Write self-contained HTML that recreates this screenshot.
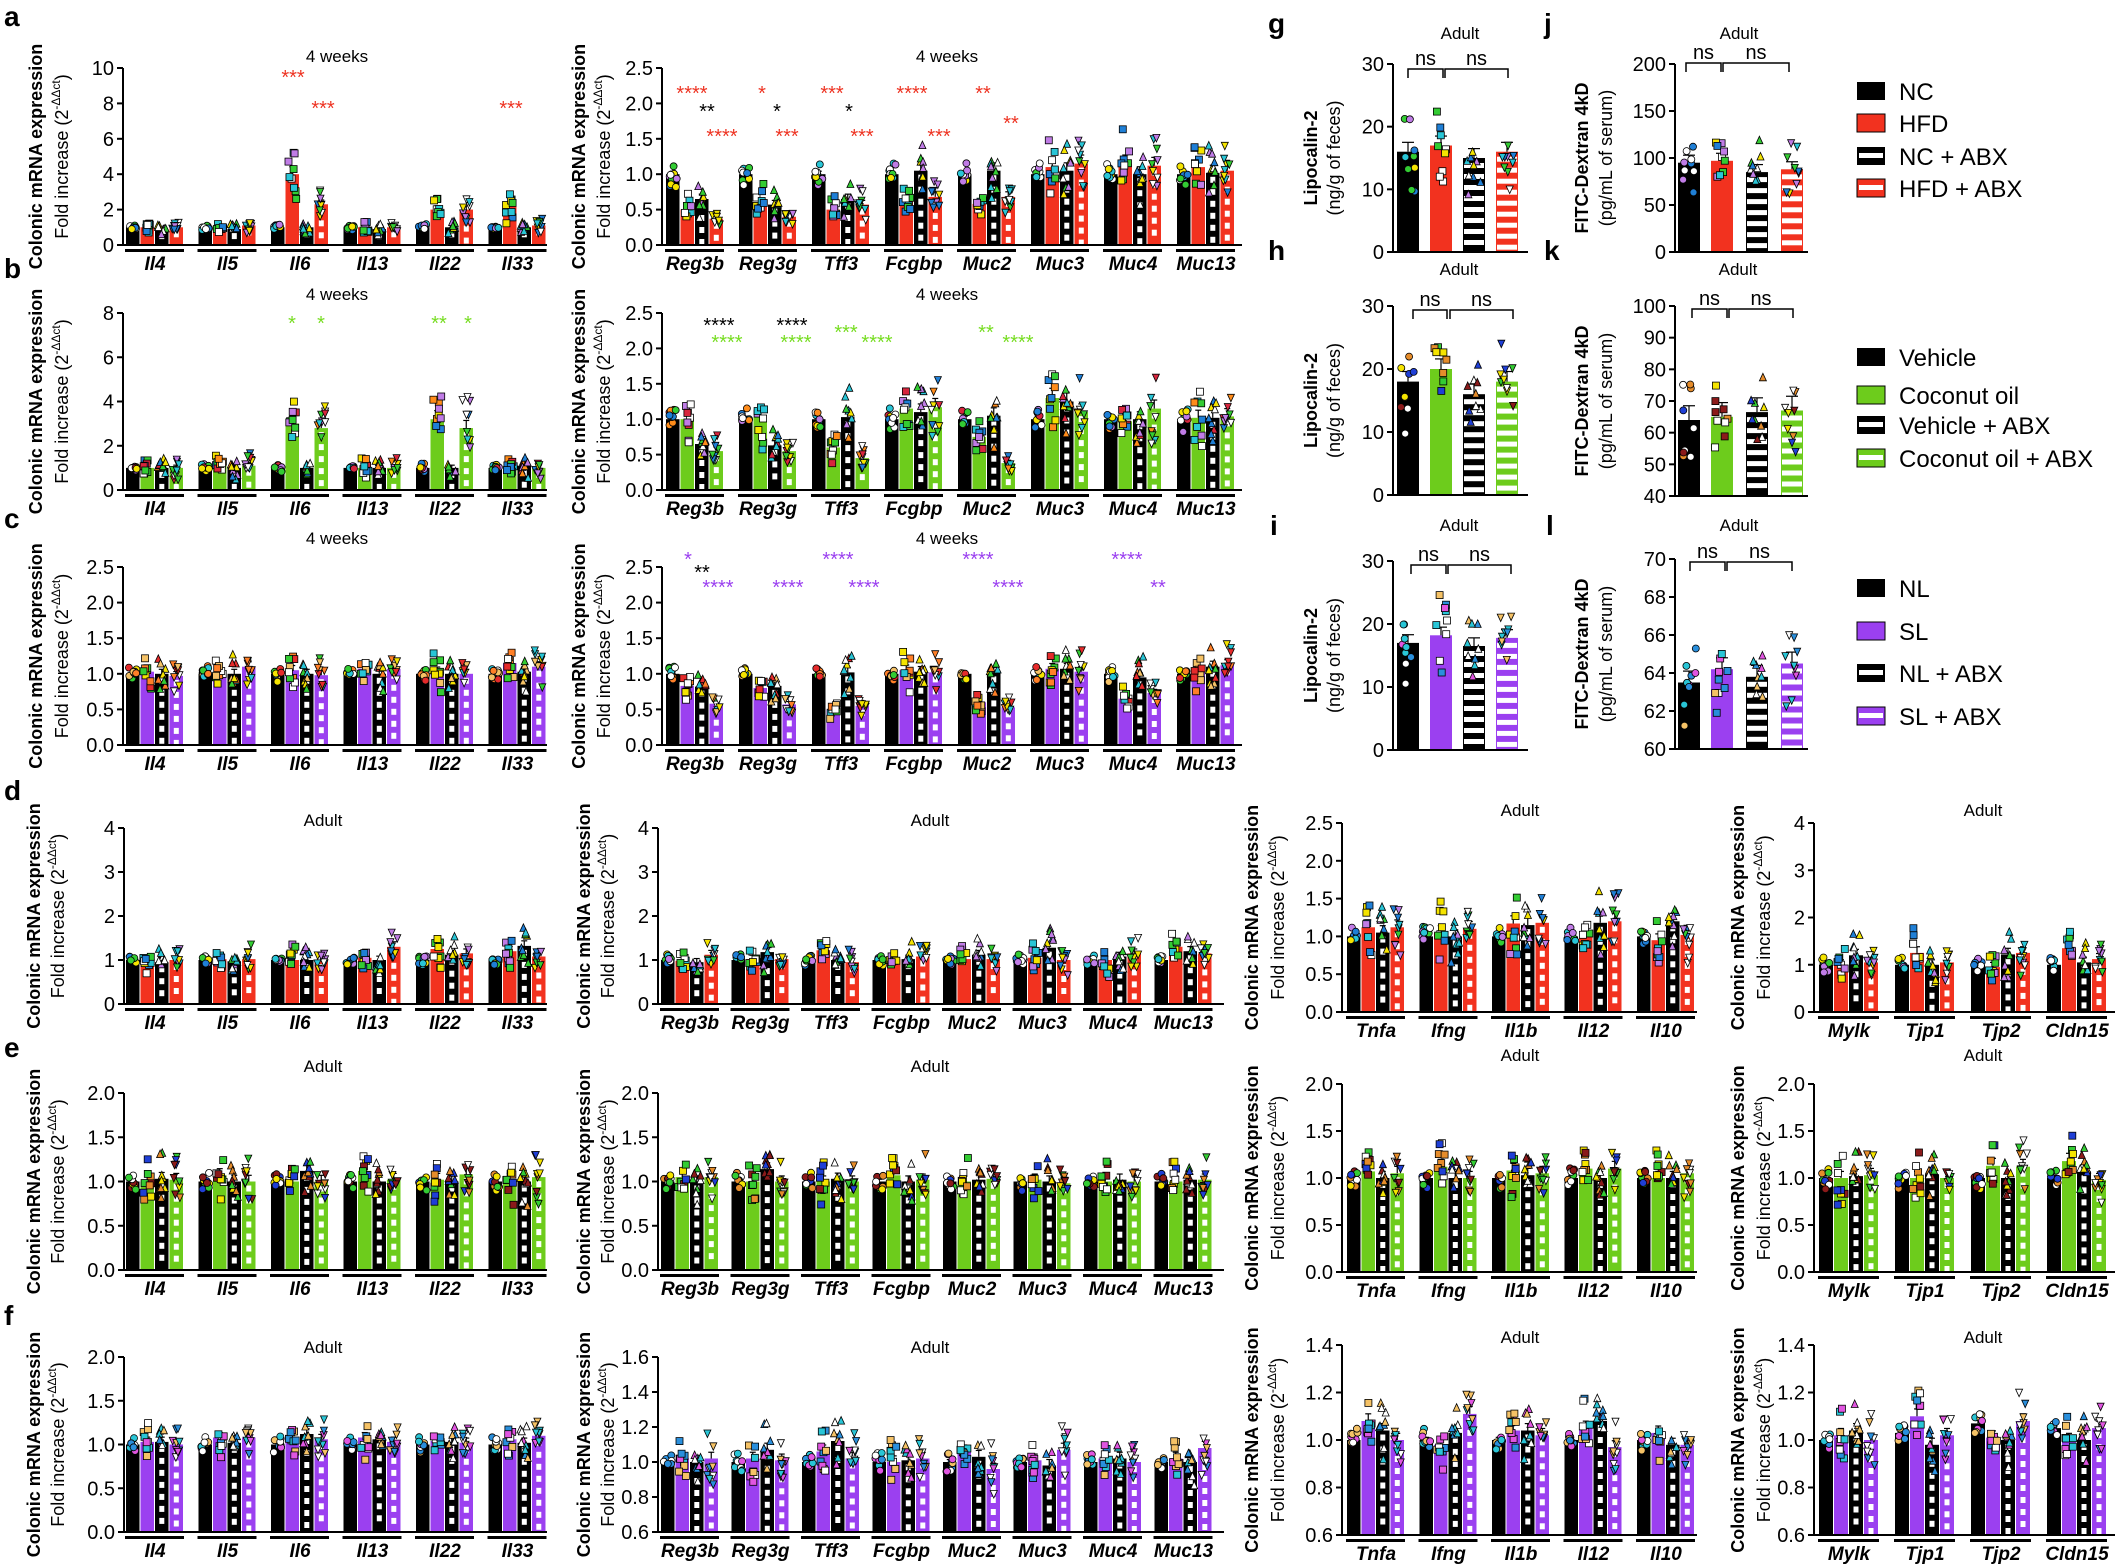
<!DOCTYPE html>
<html><head><meta charset="utf-8"><style>
html,body{margin:0;padding:0;background:#fff;}
svg{display:block;font-family:"Liberation Sans",Arial,sans-serif;}
</style></head><body>
<svg id="s" width="2120" height="1567" viewBox="0 0 2120 1567" xmlns="http://www.w3.org/2000/svg">
<rect width="2120" height="1567" fill="#fff"/>
<g font-weight="bold" font-size="28" fill="#000">
<text x="4" y="26">a</text><text x="4" y="278">b</text><text x="4" y="528">c</text>
<text x="4" y="800">d</text><text x="4" y="1057">e</text><text x="4" y="1325">f</text>
<text x="1268" y="33">g</text><text x="1268" y="260">h</text><text x="1270" y="535">i</text>
<text x="1544" y="33">j</text><text x="1544" y="260">k</text><text x="1546" y="535">l</text>
</g>
<g id="legend" font-size="24">
<rect x="1857" y="82" width="28" height="18" fill="#000"/><text x="1899" y="100">NC</text>
<rect x="1857" y="114" width="28" height="18" fill="#f2321f" stroke="#000" stroke-width="1"/><text x="1899" y="132">HFD</text>
<rect x="1857" y="147" width="28" height="18" fill="#000"/><rect x="1859" y="153" width="24" height="5" fill="#fff"/><text x="1899" y="165">NC + ABX</text>
<rect x="1857" y="179" width="28" height="18" fill="#f2321f" stroke="#000" stroke-width="1"/><rect x="1859" y="185" width="24" height="5" fill="#fff"/><text x="1899" y="197">HFD + ABX</text>

<rect x="1857" y="348" width="28" height="18" fill="#000"/><text x="1899" y="366">Vehicle</text>
<rect x="1857" y="386" width="28" height="18" fill="#6dcc1c" stroke="#000" stroke-width="1"/><text x="1899" y="404">Coconut oil</text>
<rect x="1857" y="416" width="28" height="18" fill="#000"/><rect x="1859" y="422" width="24" height="5" fill="#fff"/><text x="1899" y="434">Vehicle + ABX</text>
<rect x="1857" y="449" width="28" height="18" fill="#6dcc1c" stroke="#000" stroke-width="1"/><rect x="1859" y="455" width="24" height="5" fill="#fff"/><text x="1899" y="467">Coconut oil + ABX</text>

<rect x="1857" y="579" width="28" height="18" fill="#000"/><text x="1899" y="597">NL</text>
<rect x="1857" y="622" width="28" height="18" fill="#9b40f0" stroke="#000" stroke-width="1"/><text x="1899" y="640">SL</text>
<rect x="1857" y="664" width="28" height="18" fill="#000"/><rect x="1859" y="670" width="24" height="5" fill="#fff"/><text x="1899" y="682">NL + ABX</text>
<rect x="1857" y="707" width="28" height="18" fill="#9b40f0" stroke="#000" stroke-width="1"/><rect x="1859" y="713" width="24" height="5" fill="#fff"/><text x="1899" y="725">SL + ABX</text>
</g>
<g id="plots"></g>
</svg>
<script>
(function(){
var COL={red:'#f2321f',green:'#6dcc1c',purple:'#9b40f0'};
var PAL={a:['#29c5d6','#1f7fd6','#33cc33','#f5e400','#c07ce6','#ffffff'],
b:['#c07ce6','#29c5d6','#ffffff','#ff8c1a','#d7263d','#1f7fd6','#f5e400','#33cc33'],
c:['#ff7f27','#e52b2b','#f5e400','#33cc33','#ffffff','#29c5d6','#f5c266'],
e:['#e58c2b','#8b1a1a','#33cc33','#f5e400','#1f3fd6','#ffffff'],
f:['#e055e0','#2a8fdc','#f5c266','#ffffff','#29c5d6']};
var seed=12345;function rnd(){seed=(seed*1103515245+12345)%2147483648;return seed/2147483648;}
function R(x,y,w,h,f){return '<rect x="'+x.toFixed(1)+'" y="'+y.toFixed(1)+'" width="'+w.toFixed(1)+'" height="'+Math.max(0,h).toFixed(1)+'" fill="'+f+'"/>';}
function L(x1,y1,x2,y2,w){return '<line x1="'+x1+'" y1="'+y1+'" x2="'+x2+'" y2="'+y2+'" stroke="#000" stroke-width="'+(w||1.5)+'"/>';}
function T(x,y,t,o){o=o||{};return '<text x="'+x+'" y="'+y+'" font-size="'+(o.fs||20)+'"'+(o.a?' text-anchor="'+o.a+'"':'')+(o.fw?' font-weight="'+o.fw+'"':'')+(o.st?' font-style="'+o.st+'"':'')+(o.fill?' fill="'+o.fill+'"':'')+(o.tr?' transform="'+o.tr+'"':'')+'>'+t+'</text>';}
function marker(sh,x,y,c,sz){sz=sz||3.5;var st=' fill="'+c+'" stroke="#000" stroke-width="0.8"';
 if(sh==0)return '<circle cx="'+x.toFixed(1)+'" cy="'+y.toFixed(1)+'" r="'+sz+'"'+st+'/>';
 if(sh==1)return '<rect x="'+(x-sz).toFixed(1)+'" y="'+(y-sz).toFixed(1)+'" width="'+(2*sz)+'" height="'+(2*sz)+'"'+st+'/>';
 if(sh==2)return '<polygon points="'+x.toFixed(1)+','+(y-sz-0.5).toFixed(1)+' '+(x+sz).toFixed(1)+','+(y+sz).toFixed(1)+' '+(x-sz).toFixed(1)+','+(y+sz).toFixed(1)+'"'+st+'/>';
 return '<polygon points="'+(x-sz).toFixed(1)+','+(y-sz).toFixed(1)+' '+(x+sz).toFixed(1)+','+(y-sz).toFixed(1)+' '+x.toFixed(1)+','+(y+sz+0.5).toFixed(1)+'"'+st+'/>';}
function ylab(x1,x2,yc){return T(x1,yc,'Colonic mRNA expression',{fs:18,fw:'bold',a:'middle',tr:'rotate(-90 '+x1+' '+yc+')'})+
 '<text x="'+x2+'" y="'+yc+'" font-size="18" text-anchor="middle" transform="rotate(-90 '+x2+' '+yc+')">Fold increase (2<tspan font-size="12" dy="-8">-ΔΔct</tspan><tspan dy="8">)</tspan></text>';}
function chart(c){
 var s='',Y=function(v){return c.yb-(v-c.vmin)/(c.vmax-c.vmin)*(c.yb-c.yt);};
 var bw=c.bw||14.5,pal=PAL[c.pal],sd=c.sd*1.6;
 c.genes.forEach(function(g,i){var gx=c.start+i*c.S;
  c.means[i].forEach(function(m,j){var x=gx+j*bw,w=bw-1,top=Y(m),col=(j%2)?COL[c.sch]:'#000';
   s+=R(x,top,w,c.yb-top,col);
   if(j>=2){for(var yy=top+4;yy<c.yb-5;yy+=12)s+=R(x+w/2-2.5,yy,5,6,'#fff');}
   var er=(c.sd*m*0.35)/(c.vmax-c.vmin)*(c.yb-c.yt);if(j==0)er*=0.4;
   s+=L(x+w/2,top,x+w/2,top-er,1.2)+L(x+w/2-3,top-er,x+w/2+3,top-er,1.2);
   for(var k=0;k<9;k++){var v=m+(rnd()+rnd()-1)*sd*m*(j==0?0.4:1);if(v<c.vmin+0.02*(c.vmax-c.vmin))v=c.vmin+0.02*(c.vmax-c.vmin);
    s+=marker(j,x+w/2+(rnd()-0.5)*8,Y(v),pal[Math.floor(rnd()*pal.length)]);}
  });
  s+=R(gx-1,c.yb+4,4*bw+1,3,'#000');
  s+=T(gx+2*bw,c.yb+25,g,{fs:19,fw:'bold',st:'italic',a:'middle'});
 });
 s+=L(c.ax,c.yt,c.ax,c.yb,2)+L(c.ax,c.yb,c.ex,c.yb,2);
 for(var t=c.vmin;t<=c.vmax+1e-9;t+=c.step){var yy=Y(t);s+=L(c.ax-6,yy,c.ax,yy,2)+T(c.ax-9,yy+7,t.toFixed(c.dec),{a:'end'});}
 s+=T(c.tx,c.ty+6,c.title,{fs:17,a:'middle'});
 s+=ylab(c.l1,c.l2,(c.yt+c.yb)/2);
 (c.stars||[]).forEach(function(a){s+=T(a[1],a[2]+8,a[0],{fs:20,a:'middle',fill:a[3]});});
 return s;}
var RED='#ee3322',BLK='#000',GRN='#77dd22',PUR='#9b40f0';
var G1=['Il4','Il5','Il6','Il13','Il22','Il33'],G2=['Reg3b','Reg3g','Tff3','Fcgbp','Muc2','Muc3','Muc4','Muc13'],
G3=['Tnfa','Ifng','Il1b','Il12','Il10'],G4=['Mylk','Tjp1','Tjp2','Cldn15'];
var out='';
function L1(o){o.ax=123;o.ex=547;o.start=126;o.S=72.5;o.l1=42;o.l2=68;o.genes=G1;return o;}
function R1(o){o.ax=662;o.ex=1242;o.start=666;o.S=73;o.l1=585;o.l2=610;o.genes=G2;o.vmin=0;o.vmax=2.5;o.step=0.5;o.dec=1;return o;}
out+=chart(L1({yt:68,yb:245,vmin:0,vmax:10,step:2,dec:0,sch:'red',pal:'a',sd:0.3,title:'4 weeks',tx:337,ty:56,
 means:[[1,1,0.9,1],[1,1,0.9,1.1],[1,4,1,2.3],[1,1,0.9,1],[1,2,1,2],[1,2.2,1,1.1]],
 stars:[['***',293,76,RED],['***',323,107,RED],['***',511,107,RED]]}));
out+=chart(R1({yt:68,yb:245,sch:'red',pal:'a',sd:0.3,title:'4 weeks',tx:947,ty:56,
 means:[[1,0.5,0.65,0.37],[1,0.6,0.57,0.4],[1,0.5,0.65,0.57],[1,0.62,1.05,0.68],[1,0.58,1.05,0.68],[1,1.1,1.05,1.15],[1,1.15,1,1.12],[1,1.1,1.02,1.05]],
 stars:[['****',692,92,RED],['**',707,110,BLK],['****',722,135,RED],['*',762,92,RED],['*',777,110,BLK],['***',787,135,RED],
 ['***',832,92,RED],['*',849,110,BLK],['***',862,135,RED],['****',912,92,RED],['***',939,135,RED],['**',983,92,RED],['**',1011,122,RED]]}));
out+=chart(L1({yt:313,yb:490,vmin:0,vmax:8,step:2,dec:0,sch:'green',pal:'b',sd:0.35,title:'4 weeks',tx:337,ty:294,
 means:[[1,1,1,1],[1,1.1,1,1.1],[1,3,1,2.8],[1,1,1,1],[1,3.2,1,2.8],[1,1,1.1,1]],
 stars:[['*',292,322,GRN],['*',321,322,GRN],['**',439,322,GRN],['*',468,322,GRN]]}));
out+=chart(R1({yt:313,yb:490,sch:'green',pal:'b',sd:0.3,title:'4 weeks',tx:947,ty:294,
 means:[[1,1,0.65,0.55],[1,1.03,0.63,0.55],[1,0.6,1.03,0.45],[1,1.15,1.1,1.17],[1,0.75,1.05,0.38],[1,1.3,1.25,1.1],[1,0.97,1,1.15],[1,1.02,1.02,1.04]],
 stars:[['****',719,324,BLK],['****',727,341,GRN],['****',792,324,BLK],['****',796,341,GRN],['***',846,331,GRN],['****',877,341,GRN],['**',986,331,GRN],['****',1018,341,GRN]]}));
out+=chart(L1({yt:567,yb:745,vmin:0,vmax:2.5,step:0.5,dec:1,sch:'purple',pal:'c',sd:0.18,title:'4 weeks',tx:337,ty:538,
 means:[[1,1.03,1,0.97],[1,1,1,1.1],[1,1.05,1,0.98],[1,1.07,1,1.07],[1,1.03,1,1],[1,1.15,1.03,1.1]]}));
out+=chart(R1({yt:567,yb:745,sch:'purple',pal:'c',sd:0.2,title:'4 weeks',tx:947,ty:538,
 means:[[1,0.83,0.82,0.58],[1,0.8,0.83,0.57],[1,0.5,1.02,0.55],[1,1.05,1.03,1.02],[1,0.6,1.02,0.53],[1,1.07,1.07,1.03],[1,0.65,0.95,0.73],[1,1.03,1.1,1.12]],
 stars:[['*',688,558,PUR],['**',702,571,BLK],['****',718,586,PUR],['****',788,586,PUR],['****',838,558,PUR],['****',864,586,PUR],
 ['****',978,558,PUR],['****',1008,586,PUR],['****',1127,558,PUR],['**',1158,586,PUR]]}));
var rows=[
 {sch:'red',pal:'a',y1:[828,1004],y3:[823,1012],ty:820,ty3:810,
  L:{vmin:0,vmax:4,step:1,dec:0,sd:0.25,m:[[1,1,0.95,1],[1,1.02,0.97,1.02],[1,1,1,1],[1,1.05,1,1.3],[1,1.25,1.12,1.15],[1,1.2,1.32,1.08]]},
  M:{vmin:0,vmax:4,step:1,dec:0,sd:0.25,m:[[1,0.98,0.95,1.12],[1,1.02,1.18,1.02],[1,1.22,1,0.95],[1,1.02,1.02,1.08],[1,1.02,1.12,1.02],[1,1.05,1.28,1],[1,1,1.08,1.15],[1,1.3,1.2,1.15]]},
  C:{vmin:0,vmax:2.5,step:0.5,dec:1,sd:0.25,m:[[1,1.12,1.05,1.12],[1,1.05,1,1.1],[1,1.17,1.15,1.18],[1,1,1.18,1.2],[1,0.95,1.2,1.02]]},
  J:{vmin:0,vmax:4,step:1,dec:0,sd:0.3,m:[[1,1,1.2,1.05],[1,1.25,1,1.05],[1,0.95,1.22,1.25],[1,1.35,1.05,1.12]]}},
 {sch:'green',pal:'e',y1:[1093,1270],y3:[1084,1272],ty:1066,ty3:1055,
  L:{vmin:0,vmax:2,step:0.5,dec:1,sd:0.2,m:[[1,1,1.03,1.02],[1,1.07,1,1],[1,1,1.12,1],[1,1.12,1,1.02],[1,1.02,1,1.08],[1,1.02,1,1.05]]},
  M:{vmin:0,vmax:2,step:0.5,dec:1,sd:0.18,m:[[1,1.05,1,1.05],[1,1,1.14,1],[1,1,1.03,1],[1,1.07,1,1.02],[1,1,1.02,1.03],[1,1.02,1,0.98],[1,1,1.02,1],[1,1,1.02,1.02]]},
  C:{vmin:0,vmax:2,step:0.5,dec:1,sd:0.2,m:[[1,1.07,1,1.05],[1,1.12,1,1],[1,1.08,1.03,1.05],[1,1.1,1,1.1],[1,1,1,1.05]]},
  J:{vmin:0,vmax:2,step:0.5,dec:1,sd:0.2,m:[[1,1,1.02,1.03],[1,1,1.04,1],[1,1.13,1,1.12],[1,1.18,1.07,0.98]]}},
 {sch:'purple',pal:'f',y1:[1357,1532],y3:[1345,1535],ty:1347,ty3:1337,
  L:{vmin:0,vmax:2,step:0.5,dec:1,sd:0.15,m:[[1,1.03,1.03,1],[1,1.08,1.02,1.08],[1,1.05,1.12,1.06],[1,1.08,1.06,1.03],[1,1.04,1.03,1.02],[1,1.06,1.02,1.1]]},
  M:{vmin:0.6,vmax:1.6,step:0.2,dec:1,sd:0.1,m:[[1,1.02,1,1.02],[1,1.02,1.07,1.01],[1,1.06,1.12,1.02],[1,1,1.01,1.02],[1,1.06,1.03,0.96],[1,1.01,0.98,1.07],[1,1.02,1.02,1],[1,1.02,1,1.08]]},
  C:{vmin:0.6,vmax:1.4,step:0.2,dec:1,sd:0.08,m:[[1,1.08,1.04,1],[1,0.98,1.03,1.11],[1,1.04,1.04,1.02],[1,1.05,1.08,0.97],[1,1.03,0.98,0.98]]},
  J:{vmin:0.6,vmax:1.4,step:0.2,dec:1,sd:0.08,m:[[1,1.02,1.04,1],[1.03,1.1,0.98,1.02],[1.07,1.01,1,1.08],[1.05,1,1,1.05]]}}];
rows.forEach(function(r){
 function mk(p,o){o.vmin=p.vmin;o.vmax=p.vmax;o.step=p.step;o.dec=p.dec;o.sd=p.sd;o.means=p.m;o.sch=r.sch;o.pal=r.pal;o.title='Adult';return o;}
 out+=chart(mk(r.L,{ax:124,ex:547,start:126,S:72.5,l1:40,l2:64,genes:G1,yt:r.y1[0],yb:r.y1[1],tx:323,ty:r.ty}));
 out+=chart(mk(r.M,{ax:658,ex:1224,start:661,S:70.5,l1:590,l2:614,genes:G2,yt:r.y1[0],yb:r.y1[1],tx:930,ty:r.ty}));
 out+=chart(mk(r.C,{ax:1342,ex:1697,start:1347,S:72.5,l1:1258,l2:1284,genes:G3,yt:r.y3[0],yb:r.y3[1],tx:1520,ty:r.ty3}));
 out+=chart(mk(r.J,{ax:1814,ex:2115,start:1819,S:76,bw:15,l1:1744,l2:1770,genes:G4,yt:r.y3[0],yb:r.y3[1],tx:1983,ty:r.ty3}));
});
function small(c){
 var s='',Y=function(v){return c.yb-(v-c.vmin)/(c.vmax-c.vmin)*(c.yb-c.yt);},pal=PAL[c.pal];
 c.means.forEach(function(m,j){var x=c.bx[j],w=22,top=Y(m),col=(j%2)?COL[c.sch]:'#000';
  s+=R(x,top,w,c.yb-top,col);
  if(j>=2){for(var yy=top+5;yy<c.yb-3;yy+=11)s+=R(x+1,yy,w-2,5,'#fff');}
  var er=c.err/(c.vmax-c.vmin)*(c.yb-c.yt);
  s+=L(x+11,top,x+11,top-er,1.2)+L(x+5,top-er,x+17,top-er,1.2);
  for(var k=0;k<9;k++){var v=m+(rnd()+rnd()-1)*c.sd*1.5;s+=marker(j,x+11+(rnd()-0.5)*14,Y(v),pal[Math.floor(rnd()*pal.length)],3.5);}
 });
 s+=L(c.ax,c.yt,c.ax,c.yb,2)+L(c.ax,c.yb,c.ex,c.yb,2);
 for(var t=c.vmin;t<=c.vmax+1e-9;t+=c.step){var yy=Y(t);s+=L(c.ax-6,yy,c.ax,yy,2)+T(c.ax-9,yy+7,String(Math.round(t)),{a:'end'});}
 s+=T(c.tx,c.ty+6,'Adult',{fs:17,a:'middle'});
 var b=c.br;s+='<path d="M'+b[0]+' '+(b[4]+9)+'V'+b[4]+'H'+b[1]+'V'+(b[4]+9)+'M'+b[2]+' '+(b[4]+9)+'V'+b[4]+'H'+b[3]+'V'+(b[4]+9)+'" fill="none" stroke="#000" stroke-width="1.5"/>';
 s+=T((b[0]+b[1])/2,b[4]-4,'ns',{fs:20,a:'middle'})+T((b[2]+b[3])/2,b[4]-4,'ns',{fs:20,a:'middle'});
 var yc=(c.yt+c.yb)/2;
 s+=T(c.l1,yc,c.lab1,{fs:18,fw:'bold',a:'middle',tr:'rotate(-90 '+c.l1+' '+yc+')'})+T(c.l2,yc,c.lab2,{fs:18,a:'middle',tr:'rotate(-90 '+c.l2+' '+yc+')'});
 return s;}
var GB=[1397,1430,1463,1496],JB=[1678,1711,1746,1781];
var sm=[
 [{yt:64,yb:252,vmin:0,vmax:30,step:10,means:[16,17,15,16],sd:5,err:1.5,tx:1460,ty:33,br:[1408,1443,1445,1508,69]},
  {yt:64,yb:252,vmin:0,vmax:200,step:50,means:[95,97,85,88],sd:30,err:8,tx:1739,ty:33,br:[1686,1721,1723,1789,63]},'red','a'],
 [{yt:306,yb:495,vmin:0,vmax:30,step:10,means:[18,20,16,18],sd:6,err:1.6,tx:1459,ty:269,br:[1413,1447,1450,1513,310]},
  {yt:306,yb:496,vmin:40,vmax:100,step:10,means:[64,65,66.5,67],sd:10,err:4.5,tx:1738,ty:269,br:[1692,1727,1729,1793,309]},'green','e'],
 [{yt:561,yb:750,vmin:0,vmax:30,step:10,means:[17,18.2,16.5,17.8],sd:5,err:1.3,tx:1459,ty:525,br:[1411,1446,1448,1511,565]},
  {yt:559,yb:749,vmin:60,vmax:70,step:2,means:[63.5,64.2,63.8,64.5],sd:2,err:0.6,tx:1739,ty:525,br:[1690,1725,1727,1792,562]},'purple','f']];
sm.forEach(function(p){
 var a=p[0],b=p[1];
 a.ax=1393;a.ex=1528;a.bx=GB;a.sch=p[2];a.pal=p[3];a.l1=1317;a.l2=1340;a.lab1='Lipocalin-2';a.lab2='(ng/g of feces)';
 b.ax=1675;b.ex=1808;b.bx=JB;b.sch=p[2];b.pal=p[3];b.l1=1588;b.l2=1612;b.lab1='FITC-Dextran 4kD';b.lab2='(pg/mL of serum)';
 out+=small(a)+small(b);
});
document.getElementById('plots').innerHTML=out;
})();
</script>
</body></html>
